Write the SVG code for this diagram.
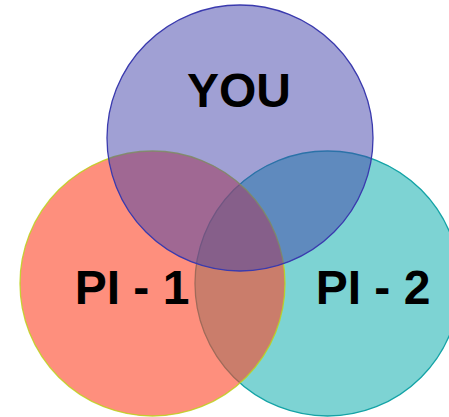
<svg xmlns="http://www.w3.org/2000/svg" width="449" height="417" viewBox="0 0 449 417">
<style>
.lbl{font-family:"Liberation Sans",Arial,sans-serif;font-weight:bold;font-size:48px;fill:#000;text-anchor:middle}
</style>
<rect width="449" height="417" fill="#fff"/>
<g id="pi2">
<circle cx="327.5" cy="283.5" r="132.5" fill="#7dd3d3" stroke="#14a3a6" stroke-width="1.3"/>
</g>
<g id="pi1">
<circle cx="152.5" cy="283.5" r="132.5" fill="#fd4426" fill-opacity="0.6" stroke="#bcd21c" stroke-width="1.3" stroke-opacity="0.85"/>
</g>
<g id="you">
<circle cx="240" cy="138" r="133" fill="#4141a9" fill-opacity="0.5" stroke="#3a3aae" stroke-width="1.3"/>
</g>
<g id="labels">
<text class="lbl" x="239" y="107">YOU</text>
<text class="lbl" x="132" y="304">PI - 1</text>
<text class="lbl" x="373" y="304">PI - 2</text>
</g>
<g id="connectors"/>
</svg>
